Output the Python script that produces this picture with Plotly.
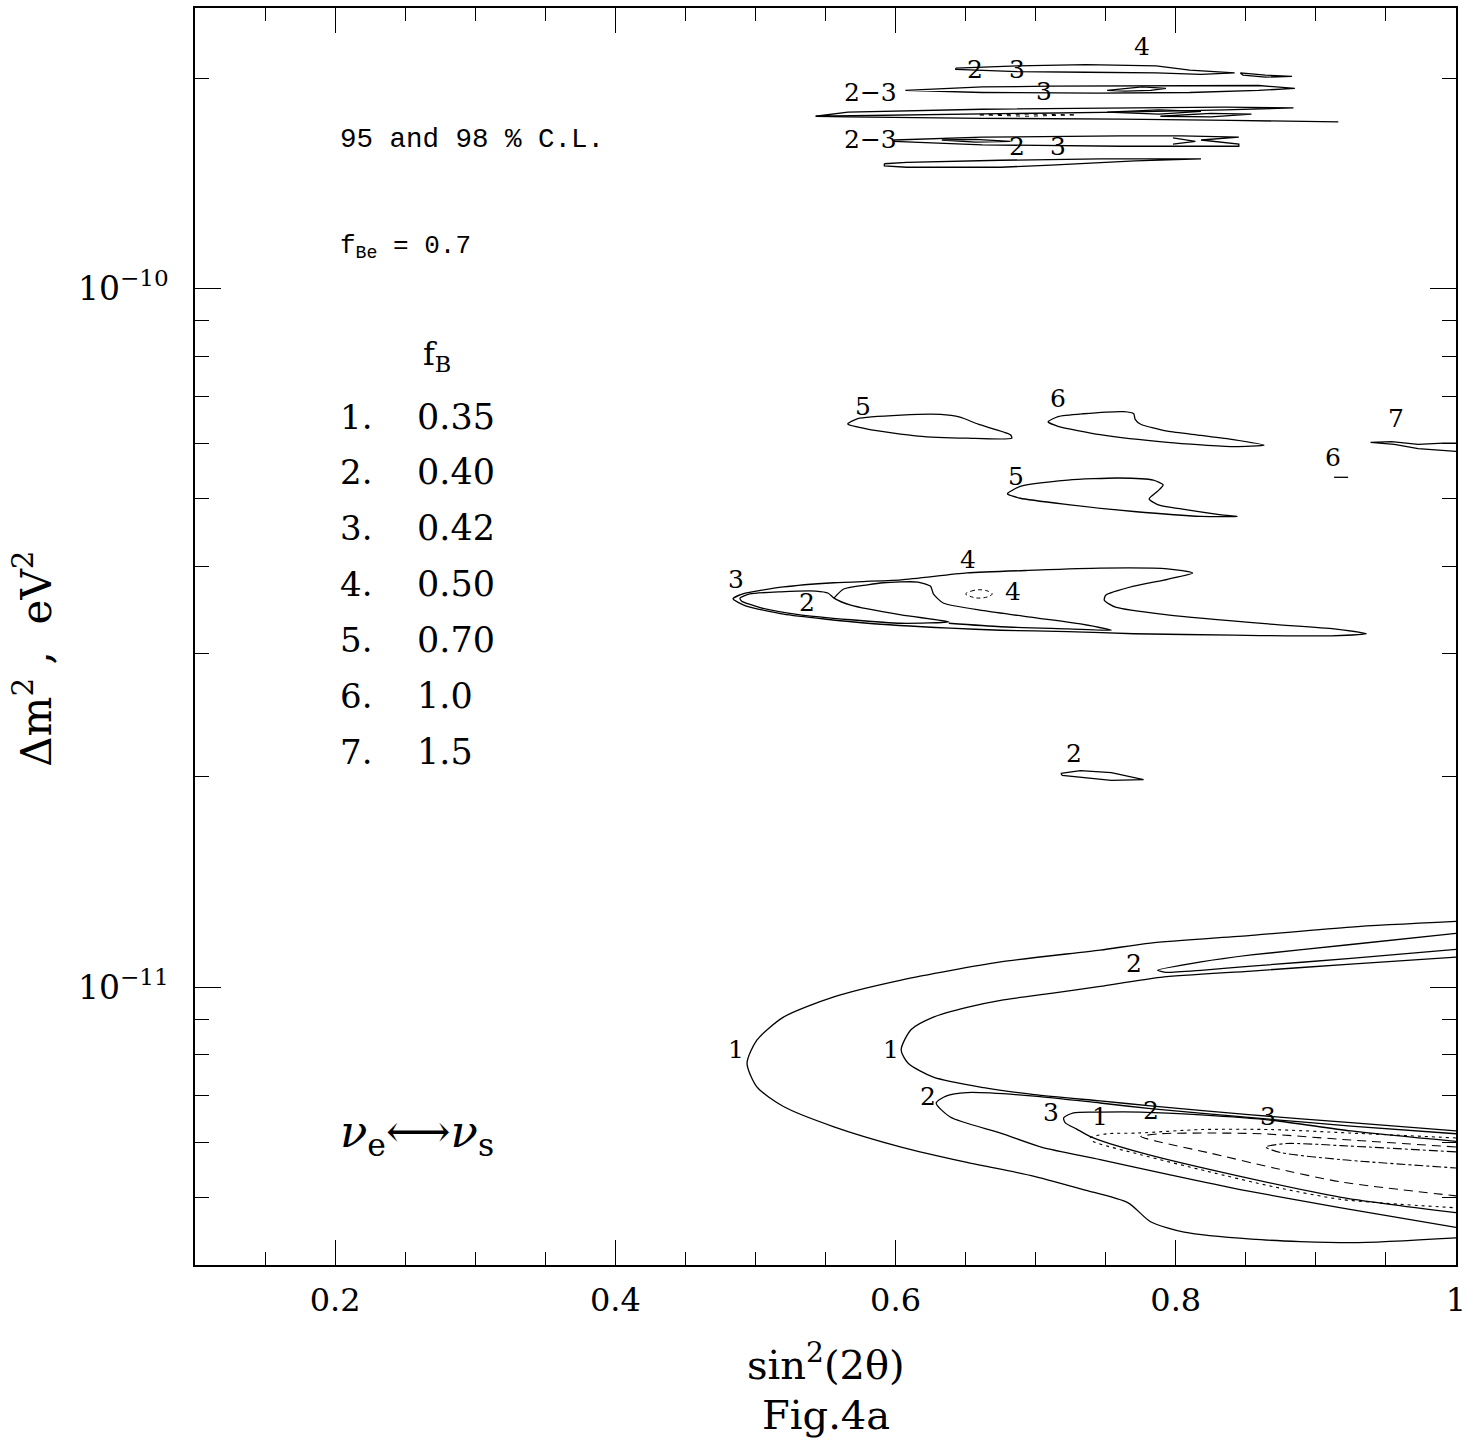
import numpy as np
import plotly.graph_objects as go

# ---------------- data (x = sin^2(2theta), lg = log10(dm2 / eV^2)) ----------------
# bottom group
c1_outer_x = [1.0, 0.925, 0.854, 0.782, 0.746, 0.675, 0.604, 0.556, 0.52, 0.501, 0.494, 0.501, 0.52, 0.556, 0.604, 0.651, 0.699, 0.734, 0.766, 0.782, 0.806, 0.854, 0.925, 1.0]
c1_outer_lg = [-10.906, -10.914, -10.926, -10.937, -10.947, -10.964, -10.990, -11.014, -11.043, -11.076, -11.109, -11.143, -11.171, -11.2, -11.229, -11.251, -11.271, -11.29, -11.309, -11.336, -11.351, -11.361, -11.366, -11.359]

c1_inner_x = [1.0, 0.925, 0.854, 0.789, 0.746, 0.711, 0.675, 0.651, 0.627, 0.611, 0.604, 0.609, 0.627, 0.663, 0.699, 0.746, 0.782, 0.854, 0.925, 1.0]
c1_inner_lg = [-10.957, -10.967, -10.977, -10.986, -10.999, -11.009, -11.019, -11.029, -11.043, -11.061, -11.09, -11.109, -11.129, -11.144, -11.154, -11.163, -11.17, -11.183, -11.194, -11.206]

c2_up_x = [1.0, 0.925, 0.854, 0.818, 0.787, 0.793, 0.818, 0.854, 0.925, 1.0]
c2_up_lg = [-10.923, -10.939, -10.954, -10.964, -10.976, -10.979, -10.976, -10.970, -10.959, -10.946]

c2_low_x = [1.0, 0.925, 0.854, 0.782, 0.746, 0.699, 0.651, 0.636, 0.629, 0.639, 0.675, 0.704, 0.746, 0.796, 0.846, 0.918, 1.0]
c2_low_lg = [-11.21, -11.199, -11.187, -11.174, -11.166, -11.156, -11.151, -11.156, -11.166, -11.186, -11.209, -11.229, -11.247, -11.269, -11.29, -11.316, -11.344]

c3_low_x = [1.0, 0.925, 0.87, 0.818, 0.775, 0.746, 0.727, 0.72, 0.721, 0.729, 0.739, 0.775, 0.846, 0.918, 1.0]
c3_low_lg = [-11.221, -11.206, -11.191, -11.183, -11.179, -11.179, -11.18, -11.187, -11.194, -11.203, -11.214, -11.237, -11.271, -11.301, -11.323]

d1_x = [1.0, 0.925, 0.868, 0.818, 0.773, 0.751, 0.739, 0.741, 0.775, 0.823, 0.87, 0.918, 1.0]
d1_lg = [-11.216, -11.209, -11.204, -11.204, -11.209, -11.21, -11.216, -11.221, -11.24, -11.264, -11.286, -11.304, -11.316]

d2_x = [1.0, 0.925, 0.861, 0.823, 0.789, 0.775, 0.787, 0.823, 0.87, 0.918, 1.0]
d2_lg = [-11.229, -11.219, -11.21, -11.209, -11.21, -11.214, -11.221, -11.237, -11.259, -11.279, -11.299]

d3_x = [1.0, 0.918, 0.879, 0.864, 0.875, 0.918, 1.0]
d3_lg = [-11.236, -11.227, -11.224, -11.229, -11.237, -11.247, -11.259]

# middle group
m_outer_x = [0.484, 0.491, 0.52, 0.556, 0.604, 0.651, 0.699, 0.746, 0.794, 0.812, 0.794, 0.77, 0.75, 0.749, 0.757, 0.794, 0.866, 0.913, 0.936, 0.911, 0.841, 0.77, 0.723, 0.675, 0.639, 0.58, 0.52, 0.493]
m_outer_lg = [-10.444, -10.437, -10.427, -10.421, -10.417, -10.407, -10.403, -10.4, -10.401, -10.407, -10.416, -10.426, -10.439, -10.446, -10.456, -10.467, -10.48, -10.487, -10.494, -10.497, -10.496, -10.494, -10.491, -10.489, -10.486, -10.479, -10.466, -10.454]

m2_x = [0.489, 0.496, 0.518, 0.543, 0.552, 0.556, 0.568, 0.604, 0.638, 0.604, 0.568, 0.532, 0.504, 0.49]
m2_lg = [-10.443, -10.437, -10.434, -10.433, -10.436, -10.443, -10.453, -10.467, -10.477, -10.479, -10.474, -10.467, -10.457, -10.447]

m3_x = [0.556, 0.563, 0.58, 0.591, 0.616, 0.625, 0.627, 0.634, 0.663, 0.699, 0.732, 0.754, 0.723, 0.675, 0.638]
m3_lg = [-10.443, -10.43, -10.424, -10.421, -10.42, -10.426, -10.437, -10.45, -10.461, -10.471, -10.48, -10.489, -10.487, -10.484, -10.479]

m4_dash_x = [0.65, 0.654, 0.659, 0.666, 0.669, 0.666, 0.659, 0.654]
m4_dash_lg = [-10.437, -10.433, -10.431, -10.433, -10.437, -10.441, -10.443, -10.441]

c5a_x = [0.566, 0.573, 0.604, 0.632, 0.646, 0.659, 0.682, 0.683, 0.651, 0.616, 0.58, 0.566]
c5a_lg = [-10.193, -10.186, -10.181, -10.18, -10.184, -10.194, -10.209, -10.214, -10.214, -10.211, -10.201, -10.194]

c5b_x = [0.68, 0.689, 0.723, 0.759, 0.784, 0.791, 0.787, 0.781, 0.787, 0.806, 0.83, 0.844, 0.818, 0.77, 0.723, 0.689, 0.68]
c5b_lg = [-10.293, -10.283, -10.274, -10.271, -10.274, -10.281, -10.29, -10.301, -10.309, -10.316, -10.323, -10.326, -10.326, -10.319, -10.309, -10.3, -10.294]

c6_x = [0.709, 0.716, 0.734, 0.763, 0.77, 0.771, 0.775, 0.794, 0.818, 0.841, 0.863, 0.841, 0.794, 0.746, 0.716, 0.709]
c6_lg = [-10.19, -10.183, -10.179, -10.176, -10.179, -10.187, -10.194, -10.204, -10.21, -10.216, -10.224, -10.226, -10.22, -10.209, -10.197, -10.191]

c6b_x = [0.913, 0.923]
c6b_lg = [-10.27, -10.27]

c7_x = [1.0, 0.991, 0.973, 0.954, 0.939, 0.956, 0.973, 0.991, 1.0]
c7_lg = [-10.221, -10.221, -10.223, -10.219, -10.22, -10.223, -10.229, -10.231, -10.233]

c2s_x = [0.718, 0.732, 0.754, 0.768, 0.777, 0.754, 0.732, 0.719]
c2s_lg = [-10.694, -10.69, -10.693, -10.699, -10.703, -10.704, -10.7, -10.697]

# top group
ta_x = [0.643, 0.687, 0.736, 0.786, 0.81, 0.842, 0.818, 0.786, 0.736, 0.687, 0.643]
ta_lg = [-9.684, -9.681, -9.679, -9.681, -9.687, -9.691, -9.693, -9.691, -9.69, -9.689, -9.686]
ta2_x = [0.846, 0.864, 0.883, 0.864, 0.848]
ta2_lg = [-9.691, -9.694, -9.696, -9.697, -9.694]
tb_x = [0.607, 0.662, 0.711, 0.761, 0.81, 0.859, 0.885, 0.859, 0.81, 0.744, 0.662, 0.607]
tb_lg = [-9.716, -9.711, -9.71, -9.71, -9.709, -9.709, -9.713, -9.716, -9.719, -9.72, -9.719, -9.717]
tb2_x = [0.751, 0.776, 0.793, 0.782, 0.764]
tb2_lg = [-9.716, -9.711, -9.713, -9.716, -9.717]
tc_x = [0.543, 0.566, 0.662, 0.761, 0.835, 0.884, 0.835, 0.761, 0.662, 0.566]
tc_lg = [-9.753, -9.747, -9.743, -9.741, -9.74, -9.741, -9.744, -9.747, -9.75, -9.753]
tc_bot_x = [0.543, 0.566, 0.662, 0.761, 0.839, 0.916]
tc_bot_lg = [-9.753, -9.754, -9.756, -9.757, -9.759, -9.761]
tc_dot_x = [0.66, 0.694, 0.729, 0.694]
tc_dot_lg = [-9.751, -9.75, -9.751, -9.753]
tcl1_x = [0.751, 0.788, 0.818, 0.788]
tcl1_lg = [-9.747, -9.744, -9.746, -9.75]
tcl2_x = [0.789, 0.825, 0.854, 0.825]
tcl2_lg = [-9.753, -9.749, -9.75, -9.754]
td_x = [0.599, 0.662, 0.761, 0.804, 0.845, 0.818, 0.845, 0.845, 0.761, 0.662, 0.599]
td_lg = [-9.787, -9.783, -9.781, -9.781, -9.783, -9.787, -9.793, -9.796, -9.796, -9.794, -9.789]
td2_x = [0.798, 0.814, 0.798]
td2_lg = [-9.784, -9.789, -9.793]
td3_x = [0.633, 0.657, 0.682, 0.657]
td3_lg = [-9.787, -9.786, -9.789, -9.79]
te_x = [0.592, 0.608, 0.675, 0.746, 0.818, 0.771, 0.711, 0.675, 0.608, 0.592]
te_lg = [-9.821, -9.819, -9.816, -9.814, -9.814, -9.817, -9.823, -9.826, -9.826, -9.824]

# contour labels: text, x, log10(dm2)
lab_text = ["4", "2", "3", "3", "2\u22123", "2\u22123", "2", "3",
            "5", "6", "7", "6", "5", "4", "3", "2", "4", "2",
            "2", "1", "1", "2", "3", "1", "2", "3"]
lab_x = [0.776, 0.657, 0.687, 0.706, 0.582, 0.582, 0.687, 0.716,
         0.577, 0.716, 0.957, 0.912, 0.686, 0.652, 0.486, 0.537, 0.684, 0.727,
         0.77, 0.486, 0.597, 0.623, 0.711, 0.746, 0.782, 0.866]
lab_lg = [-9.653, -9.686, -9.686, -9.717, -9.719, -9.787, -9.796, -9.796,
          -10.169, -10.157, -10.186, -10.241, -10.269, -10.387, -10.417, -10.449, -10.434, -10.666,
          -10.966, -11.09, -11.09, -11.157, -11.18, -11.186, -11.176, -11.186]

# legend list
fb_index = ["1.", "2.", "3.", "4.", "5.", "6.", "7."]
fb_value = ["0.35", "0.40", "0.42", "0.50", "0.70", "1.0", "1.5"]
fb_lg = [-10.183, -10.263, -10.343, -10.423, -10.503, -10.583, -10.663]

x_ticks = [0.2, 0.4, 0.6, 0.8, 1.0]
x_ticktext = ["0.2", "0.4", "0.6", "0.8", "1"]
x_minor = [0.15, 0.25, 0.3, 0.35, 0.45, 0.5, 0.55, 0.65, 0.7, 0.75, 0.85, 0.9, 0.95]
y_ticks = [1e-11, 1e-10]
y_ticktext = ["10<sup>\u221211</sup>", "10<sup>\u221210</sup>"]
y_minor = [5e-12, 6e-12, 7e-12, 8e-12, 9e-12, 2e-11, 3e-11, 4e-11, 5e-11, 6e-11,
           7e-11, 8e-11, 9e-11, 2e-10]

# ---------------- figure ----------------
fig = go.Figure()
LW = 1.3


def add(x, lg, closed=False, dash="solid", spline=True, smooth=0.7, width=LW):
    x = list(x)
    lg = list(lg)
    if closed:
        x = x + x[:1]
        lg = lg + lg[:1]
    y = [10.0 ** v for v in lg]
    fig.add_trace(go.Scatter(
        x=x, y=y, mode="lines",
        line=dict(color="black", width=width, dash=dash,
                  shape="spline" if spline else "linear",
                  smoothing=smooth if spline else None),
        hoverinfo="skip", showlegend=False))


add(c1_outer_x, c1_outer_lg)
add(c1_inner_x, c1_inner_lg)
add(c2_up_x, c2_up_lg, smooth=0.5)
add(c2_low_x, c2_low_lg)
add(c3_low_x, c3_low_lg)
add(d1_x, d1_lg, dash="3px,4px", width=1.1)
add(d2_x, d2_lg, dash="9px,6px", width=1.1)
add(d3_x, d3_lg, dash="dashdot", width=1.1)

add(m_outer_x, m_outer_lg, closed=True, smooth=0.6)
add(m2_x, m2_lg, closed=True, smooth=0.6)
add(m3_x, m3_lg, smooth=0.6)
add(m4_dash_x, m4_dash_lg, closed=True, dash="4px,3px", width=1.0, smooth=1.0)
add(c5a_x, c5a_lg, closed=True, smooth=0.6)
add(c5b_x, c5b_lg, closed=True, smooth=0.6)
add(c6_x, c6_lg, closed=True, smooth=0.6)
add(c6b_x, c6b_lg, spline=False)
add(c7_x, c7_lg, spline=False)
add(c2s_x, c2s_lg, closed=True, spline=False)

add(ta_x, ta_lg, closed=True, spline=False)
add(ta2_x, ta2_lg, closed=True, spline=False)
add(tb_x, tb_lg, closed=True, spline=False)
add(tb2_x, tb2_lg, closed=True, spline=False)
add(tc_x, tc_lg, closed=True, spline=False)
add(tc_bot_x, tc_bot_lg, spline=False)
add(tc_dot_x, tc_dot_lg, closed=True, spline=False, dash="4px,5px", width=1.0)
add(tcl1_x, tcl1_lg, closed=True, spline=False)
add(tcl2_x, tcl2_lg, closed=True, spline=False)
add(td_x, td_lg, closed=True, spline=False)
add(td2_x, td2_lg, spline=False)
add(td3_x, td3_lg, closed=True, spline=False)
add(te_x, te_lg, closed=True, spline=False)

SERIF = "DejaVu Serif"
annos = []
for t, x, lg in zip(lab_text, lab_x, lab_lg):
    annos.append(dict(x=x, y=lg, xref="x", yref="y", text=t, showarrow=False,
                      xanchor="center", yanchor="middle",
                      font=dict(family=SERIF, size=25, color="black")))

annos.append(dict(x=0.202, y=-9.787, xref="x", yref="y", text="95 and 98 % C.L.",
                  showarrow=False, xanchor="left", yanchor="middle",
                  font=dict(family="Liberation Mono", size=27.5, color="black")))
annos.append(dict(x=0.202, y=-9.94, xref="x", yref="y",
                  text="f<sub>Be</sub> = 0.7",
                  showarrow=False, xanchor="left", yanchor="middle",
                  font=dict(family="Liberation Mono", size=26, color="black")))
annos.append(dict(x=0.261, y=-10.097, xref="x", yref="y", text="f<sub>B</sub>",
                  showarrow=False, xanchor="left", yanchor="middle",
                  font=dict(family=SERIF, size=32, color="black")))
for idx, val, lg in zip(fb_index, fb_value, fb_lg):
    annos.append(dict(x=0.202, y=lg, xref="x", yref="y", text=idx, showarrow=False,
                      xanchor="left", yanchor="middle",
                      font=dict(family=SERIF, size=34, color="black")))
    annos.append(dict(x=0.257, y=lg, xref="x", yref="y", text=val, showarrow=False,
                      xanchor="left", yanchor="middle",
                      font=dict(family=SERIF, size=35, color="black")))
annos.append(dict(x=0.202, y=-11.211, xref="x", yref="y",
                  text="<i>\u03bd</i><sub>e</sub>\u27f7<i>\u03bd</i><sub>s</sub>",
                  showarrow=False, xanchor="left", yanchor="middle",
                  font=dict(family=SERIF, size=45, color="black")))

# axis titles
annos.append(dict(x=0.5, y=-0.077, xref="paper", yref="paper",
                  text="sin<sup>2</sup>(2\u03b8)", showarrow=False,
                  xanchor="center", yanchor="middle",
                  font=dict(family=SERIF, size=40, color="black")))
annos.append(dict(x=0.5, y=-0.119, xref="paper", yref="paper",
                  text="Fig.4a", showarrow=False,
                  xanchor="center", yanchor="middle",
                  font=dict(family=SERIF, size=40, color="black")))
annos.append(dict(x=-0.128, y=0.482, xref="paper", yref="paper",
                  text="\u0394m<sup>2</sup> ,  eV<sup>2</sup>", showarrow=False,
                  textangle=-90, xanchor="center", yanchor="middle",
                  font=dict(family=SERIF, size=42, color="black")))

fig.update_layout(
    width=1476, height=1447,
    margin=dict(l=195, r=20, t=6, b=182),
    paper_bgcolor="white", plot_bgcolor="white",
    showlegend=False,
    annotations=annos,
    xaxis=dict(range=[0.1, 1.0], tickmode="array", tickvals=x_ticks, ticktext=x_ticktext,
               ticks="inside", ticklen=25, tickwidth=1.3, tickcolor="black",
               showline=True, linecolor="black", linewidth=1.5, mirror="ticks",
               showgrid=False, zeroline=False,
               tickfont=dict(family=SERIF, size=32, color="black"),
               ticklabelstandoff=6,
               minor=dict(tickmode="array", tickvals=x_minor, ticks="inside",
                          ticklen=13, tickwidth=1.1, tickcolor="black", showgrid=False)),
    yaxis=dict(type="log", range=[np.log10(4e-12), -9.598], tickmode="array",
               tickvals=y_ticks, ticktext=y_ticktext,
               ticks="inside", ticklen=26, tickwidth=1.3, tickcolor="black",
               showline=True, linecolor="black", linewidth=1.5, mirror="ticks",
               showgrid=False, zeroline=False,
               tickfont=dict(family=SERIF, size=33, color="black"),
               ticklabelstandoff=18,
               minor=dict(tickmode="array", tickvals=y_minor, ticks="inside",
                          ticklen=14, tickwidth=1.1, tickcolor="black", showgrid=False)),
)

fig.write_html("out.html")
